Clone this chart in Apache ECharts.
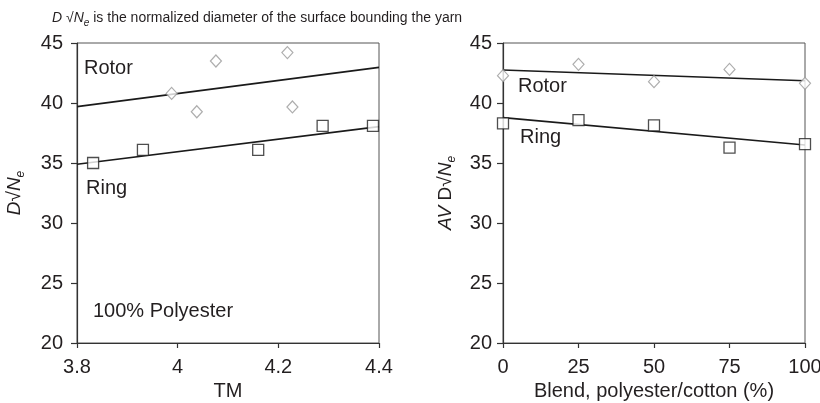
<!DOCTYPE html>
<html>
<head>
<meta charset="utf-8">
<script src="https://cdn.jsdelivr.net/npm/echarts@6/dist/echarts.min.js"></script>
<style>html,body{margin:0;padding:0;background:#fff}#c{width:820px;height:403px}</style>
</head>
<body>
<div id="c"></div>
<script>
// Left panel: 100% polyester, D*sqrt(Ne) vs TM
const leftRotor = [[3.988, 40.8], [4.038, 39.27], [4.076, 43.5], [4.218, 44.2], [4.228, 39.67]];
const leftRing = [[3.832, 35.0], [3.931, 36.1], [4.160, 36.1], [4.288, 38.1], [4.388, 38.1]];
const leftRotorFit = [[3.8, 39.7], [4.4, 42.97]];
const leftRingFit = [[3.8, 34.9], [4.4, 38.03]];
const leftXTicks = [3.8, 4.0, 4.2, 4.4];

// Right panel: blend, AV D*sqrt(Ne)
const rightRotor = [[0, 42.28], [25, 43.22], [50, 41.78], [75, 42.8], [100, 41.64]];
const rightRing = [[0, 38.3], [25, 38.58], [50, 38.14], [75, 36.28], [100, 36.58]];
const rightRotorFit = [[0, 42.75], [100, 41.86]];
const rightRingFit = [[0, 38.78], [100, 36.5]];
const rightXTicks = [0, 25, 50, 75, 100];

const yTicks = [20, 25, 30, 35, 40, 45];

const FONT = '"Liberation Sans", Arial, sans-serif';
const TXT = '#231f20';
const AX = '#333';
const FS = 20;

const chart = echarts.init(document.getElementById('c'), null, {renderer: 'canvas'});

function xAxisCfg(gi, min, max, interval, name, fmt) {
  return {
    type: 'value', gridIndex: gi, min: min, max: max, interval: interval,
    name: name, nameLocation: 'middle', nameGap: 36,
    nameTextStyle: {fontFamily: FONT, fontSize: FS, color: TXT},
    axisLine: {show: true, lineStyle: {color: AX, width: 1.2}},
    axisTick: {show: true, inside: false, length: 5, lineStyle: {color: AX, width: 1.2}},
    axisLabel: {fontFamily: FONT, fontSize: FS, color: TXT, margin: 14, formatter: fmt},
    splitLine: {show: false}
  };
}
function yAxisCfg(gi, name, gap, margin, rich) {
  return {
    type: 'value', gridIndex: gi, min: yTicks[0], max: yTicks[yTicks.length - 1], interval: 5,
    name: name, nameLocation: 'middle', nameGap: gap, nameRotate: 90,
    nameTextStyle: {fontFamily: FONT, fontSize: 19, color: TXT, rich: rich},
    axisLine: {show: true, lineStyle: {color: AX, width: 1.2}},
    axisTick: {show: true, inside: false, length: 6, lineStyle: {color: AX, width: 1.2}},
    axisLabel: {fontFamily: FONT, fontSize: FS, color: TXT, margin: margin},
    splitLine: {show: false}
  };
}
const nameRich = {
  i: {fontFamily: FONT, fontSize: 19, fontStyle: 'italic', color: TXT, lineHeight: 24, verticalAlign: 'middle'},
  n: {fontFamily: FONT, fontSize: 19, color: TXT, lineHeight: 24, verticalAlign: 'middle'},
  sub: {fontFamily: FONT, fontSize: 12, fontStyle: 'italic', color: TXT, lineHeight: 24, verticalAlign: 'bottom'}
};

function scatter(xi, data, kind) {
  const diamond = kind === 'rotor';
  return {
    type: 'scatter', xAxisIndex: xi, yAxisIndex: xi, data: data, clip: false, z: 5,
    symbol: diamond ? 'diamond' : 'rect',
    symbolSize: diamond ? [11, 12] : [11, 11],
    itemStyle: {color: '#fff', borderColor: diamond ? '#999' : '#222', borderWidth: diamond ? 1.2 : 1.3},
    emphasis: {disabled: true}
  };
}
function fit(xi, data) {
  return {
    type: 'line', xAxisIndex: xi, yAxisIndex: xi, data: data, symbol: 'none', z: 3,
    lineStyle: {color: '#1a1a1a', width: 1.6}, emphasis: {disabled: true}
  };
}

const fmtLeft = v => {
  const m = leftXTicks.find(t => Math.abs(t - v) < 1e-6);
  return m === undefined ? '' : String(+m.toFixed(1));
};

function note(text, left, top) {
  return {type: 'text', left: left, top: top, style: {text: text, fontFamily: FONT, fontSize: FS, fill: TXT}};
}

chart.setOption({
  animation: false,
  backgroundColor: '#fff',
  title: {
    text: '{i|D} √{i|N}{sub|e} is the normalized diameter of the surface bounding the yarn',
    left: 47, top: 3,
    textStyle: {
      fontFamily: FONT, fontSize: 14, color: TXT, fontWeight: 'normal',
      rich: {
        i: {fontFamily: FONT, fontSize: 14, fontStyle: 'italic', color: TXT, lineHeight: 20, verticalAlign: 'middle'},
        sub: {fontFamily: FONT, fontSize: 10, fontStyle: 'italic', color: TXT, lineHeight: 20, verticalAlign: 'bottom'}
      }
    }
  },
  grid: [
    {left: 77, right: 441, top: 43, bottom: 60, containLabel: false, outerBoundsMode: 'none', show: true, borderColor: '#555', borderWidth: 1},
    {left: 503, right: 15, top: 43, bottom: 60, containLabel: false, outerBoundsMode: 'none', show: true, borderColor: '#555', borderWidth: 1}
  ],
  xAxis: [
    xAxisCfg(0, leftXTicks[0], leftXTicks[leftXTicks.length - 1], 0.2, 'TM', fmtLeft),
    xAxisCfg(1, rightXTicks[0], rightXTicks[rightXTicks.length - 1], 25, 'Blend, polyester/cotton (%)', v => String(v))
  ],
  yAxis: [
    yAxisCfg(0, '{i|D}{n|√}{i|N}{sub|e}', 50, 14, nameRich),
    yAxisCfg(1, '{i|AV} {n|D√}{i|N}{sub|e}', 45, 11, nameRich)
  ],
  series: [
    fit(0, leftRotorFit), fit(0, leftRingFit),
    scatter(0, leftRotor, 'rotor'), scatter(0, leftRing, 'ring'),
    fit(1, rightRotorFit), fit(1, rightRingFit),
    scatter(1, rightRotor, 'rotor'), scatter(1, rightRing, 'ring')
  ],
  graphic: [
    note('Rotor', 84, 58),
    note('Ring', 86, 178),
    note('100% Polyester', 93, 301),
    note('Rotor', 518, 76),
    note('Ring', 520, 127)
  ]
});
</script>
</body>
</html>
